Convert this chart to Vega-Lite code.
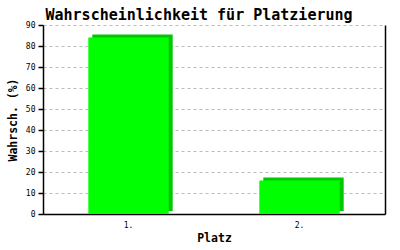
{
  "$schema": "https://vega.github.io/schema/vega-lite/v6.json",
  "width": 342,
  "height": 189,
  "autosize": {"type": "none"},
  "padding": {"left": 43, "top": 25, "right": 15, "bottom": 36},
  "background": "white",
  "title": {
    "text": "Wahrscheinlichkeit für Platzierung",
    "font": "DejaVu Sans Mono",
    "fontSize": 15,
    "fontWeight": "bold",
    "color": "black",
    "anchor": "middle",
    "dx": -15,
    "offset": -2
  },
  "data": {"values": [
    {"Platz": "1.", "p": 84},
    {"Platz": "2.", "p": 16}
  ]},
  "encoding": {
    "x": {
      "field": "Platz", "type": "nominal",
      "scale": {"paddingInner": 0, "paddingOuter": 0},
      "axis": {
        "title": "Platz", "labelAngle": 0, "ticks": false, "labelPadding": 7,
        "domainColor": "black", "domainWidth": 1.5,
        "labelFont": "DejaVu Sans Mono", "labelFontSize": 8, "labelColor": "black",
        "titleFont": "DejaVu Sans Mono", "titleFontSize": 11.5, "titleFontWeight": "bold",
        "titleColor": "black", "titlePadding": 3
      }
    }
  },
  "layer": [
    {
      "mark": {"type": "bar", "color": "#00c800", "width": {"band": 0.47}, "xOffset": 4, "yOffset": -3},
      "encoding": {
        "y": {
          "field": "p", "type": "quantitative",
          "scale": {"domain": [0, 90]},
          "axis": {
            "title": "Wahrsch. (%)", "values": [0,10,20,30,40,50,60,70,80,90],
            "grid": true, "gridColor": "#bbbbbb", "gridDash": [3, 3], "gridWidth": 1,
            "domainColor": "black", "domainWidth": 1.5,
            "tickColor": "black", "tickSize": 5, "tickWidth": 1.5,
            "labelFont": "DejaVu Sans Mono", "labelFontSize": 8, "labelColor": "black", "labelPadding": 3,
            "titleFont": "DejaVu Sans Mono", "titleFontSize": 11.5, "titleFontWeight": "bold",
            "titleColor": "black", "titlePadding": 7
          }
        }
      }
    },
    {
      "mark": {"type": "bar", "color": "#00ff00", "width": {"band": 0.47}},
      "encoding": {
        "y": {
          "field": "p", "type": "quantitative",
          "scale": {"domain": [0, 90]},
          "axis": {
            "orient": "right", "title": null, "labels": false, "ticks": false, "grid": false,
            "domainColor": "black", "domainWidth": 1.5
          }
        }
      }
    }
  ],
  "resolve": {"scale": {"y": "independent"}},
  "config": {"view": {"stroke": null}}
}
